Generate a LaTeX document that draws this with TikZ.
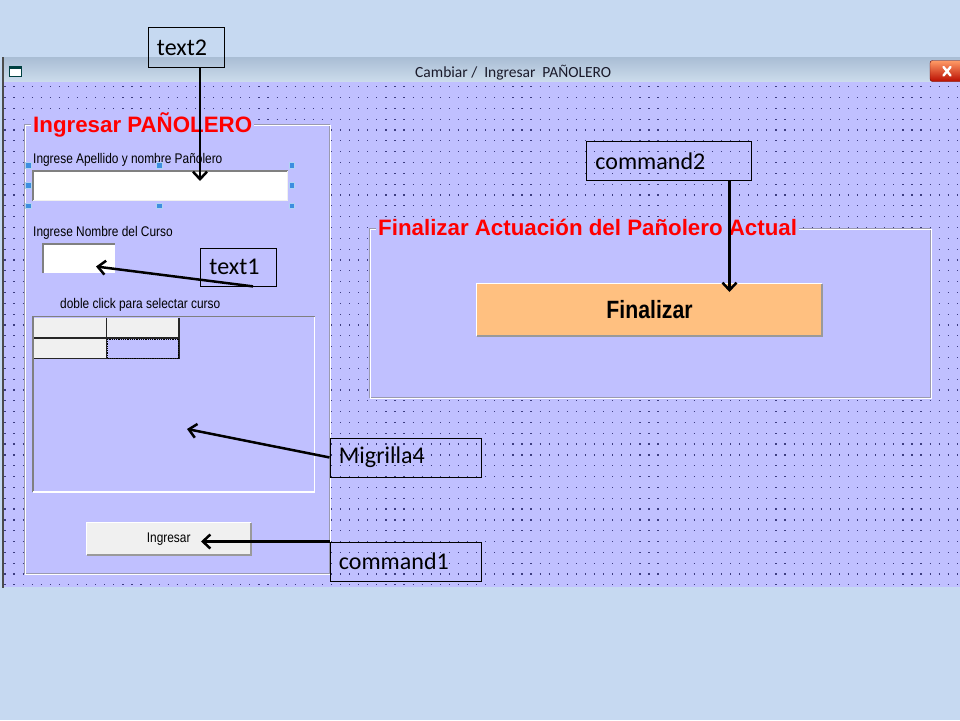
\documentclass[tikz,border=0pt]{standalone}
\usepackage{fontspec}
\usepackage{graphicx}
\setmainfont{Liberation Sans}
\newfontfamily\calfont{Carlito}
\newfontfamily\narrowfont[FakeStretch=0.85]{Liberation Sans}
\usetikzlibrary{arrows.meta,calc}
\definecolor{bgblue}{HTML}{C6D9F1}
\definecolor{lav}{HTML}{C0C0FF}
\definecolor{dotc}{HTML}{3C3C80}
\definecolor{btngray}{HTML}{F0F0F0}
\definecolor{orangebtn}{HTML}{FFC080}
\definecolor{etchgray}{HTML}{9A9AB0}
\definecolor{titred}{HTML}{FF0000}
\definecolor{handleblue}{HTML}{3D8EE0}
\definecolor{sunkgray}{HTML}{808080}
\definecolor{wintext}{HTML}{1A1A2A}
\definecolor{bartop}{HTML}{A9BDD4}
\definecolor{barbot}{HTML}{CCDCEC}
\tikzset{
  dotrow/.style={dotc, line width=1.2pt, dash pattern=on 1.2pt off 7.87pt},
  frametitle/.style={fill=lav, text=titred, inner xsep=2pt, inner ysep=1pt,
    font=\bfseries\fontsize{22.3}{26}\selectfont},
  lbl/.style={inner sep=0pt, text=black, font=\narrowfont\fontsize{14}{16}\selectfont},
  btn/.style={fill=btngray, inner sep=0pt, text=black},
  callout/.style={draw=black, line width=0.9pt, inner xsep=9pt, inner ysep=0pt,
    align=left, font=\calfont\fontsize{24}{28}\selectfont, anchor=north west},
  arr/.style={black, line width=2.5pt, -{Straight Barb[length=7.5pt,width=14pt]}},
  handle/.style={fill=handleblue, draw=handleblue!40!white, line width=0.6pt},
}
\begin{document}
\begin{tikzpicture}[x=1pt,y=-1pt]
\fill[bgblue] (0,0) rectangle (960,720);
\useasboundingbox (0,0) rectangle (960,720);
% window title bar
\shade[top color=bartop, bottom color=barbot] (2,57) rectangle (960,82);
\node[anchor=base west, inner sep=0pt, text=wintext, font=\calfont\fontsize{15.5}{18}\selectfont] (wtitle) at (415,77.7) {Cambiar /\ \ Ingresar\ \ PAÑOLERO};
% close button
\shade[top color=red!30!orange!60!white, bottom color=red!70!black!90!orange, rounded corners=2.5pt, draw=red!40!black] (930,60.5) rectangle (968,81.5);
\draw[white, line width=2.4pt, line cap=round] (943.5,67) -- (950.5,75.5) (950.5,67) -- (943.5,75.5);
% window icon
\fill[white, draw=teal!50!black, line width=1pt] (9,66) rectangle (21,76);
\fill[teal!50!black] (9,65.5) rectangle (21,68.5);
% form area
\fill[lav] (4,82) rectangle (960,587);
\fill[gray!60!black] (1.5,57) rectangle (3.5,588);
% dot grid
\foreach \k in {0,...,46}{
  \pgfmathsetmacro\yy{86.7+10.83*\k}
  \draw[dotrow] (4.4,\yy) -- (960,\yy);
}
% ---------- left frame
\fill[lav] (24,124) rectangle (330,574);
\draw[etchgray, line width=1pt] (24,124) rectangle (329,573);
\draw[white, line width=1pt] (25,125) rectangle (330,574);
\node[frametitle, anchor=base west] (ftl) at (31,132) {Ingresar PAÑOLERO};
\node[lbl, anchor=base west] (l1) at (33,163) {Ingrese Apellido y nombre Pañolero};
% text2 box
\fill[white] (32,170) rectangle (288,201);
\draw[sunkgray, line width=2pt] (33,201) -- (33,171) -- (288,171);
\draw[btngray, line width=1pt] (33,200.5) -- (287.5,200.5) -- (287.5,171);
\foreach \hx/\hy in {28.3/165,159.3/165,291.7/165,28.3/185.5,291.7/185.5,28.3/205.7,159.3/205.7,291.7/205.7}
  \draw[handle] (\hx,\hy) ++(-2.8,-2.8) rectangle ++(5.6,5.6);
\node[lbl, anchor=base west] (l2) at (33,236) {Ingrese Nombre del Curso};
% text1 box
\fill[white] (42,243) rectangle (115,273);
\draw[sunkgray, line width=2pt] (43,273) -- (43,244) -- (115,244);
\node[lbl, anchor=base west] (l3) at (60,308) {doble click para selectar curso};
% grid
\draw[sunkgray, line width=1.5pt] (33,492) -- (33,316.5) -- (314.5,316.5);
\draw[white, line width=1.5pt] (314.5,316.5) -- (314.5,492) -- (33,492);
\fill[btngray] (34,317.5) rectangle (179,358);
\fill[lav] (107,338.5) rectangle (179,358);
\draw[black!85, line width=1.4pt] (34,338) -- (179,338) (106.5,317.5) -- (106.5,358.5) (34,358.5) -- (179,358.5) (179,317.5) -- (179,358.5);
\draw[black, line width=0.8pt, densely dotted] (107.5,339) rectangle (178.5,358);
% Ingresar button
\node[btn, minimum width=164pt, minimum height=32pt, font=\narrowfont\fontsize{14}{16}\selectfont] (bIng) at (168.7,538.8) {Ingresar};
\draw[white, line width=1.2pt] (bIng.south west) |- (bIng.north east);
\draw[sunkgray!80, line width=1.6pt] (bIng.south west) -| (bIng.north east);
% ---------- right frame
\fill[lav] (369,228) rectangle (931,398);
\draw[etchgray, line width=1pt] (369,228) rectangle (930,397);
\draw[white, line width=1pt] (370,229) rectangle (931,398);
\node[frametitle, anchor=base west] (ftr) at (376,235.5) {Finalizar Actuación del Pañolero Actual};
\node[btn, fill=orangebtn, minimum width=345pt, minimum height=52pt, font=\narrowfont\bfseries\fontsize{25}{28}\selectfont] (bFin) at (649.5,310) {Finalizar};
\draw[white, line width=1.2pt] (bFin.south west) |- (bFin.north east);
\draw[sunkgray!80, line width=1.6pt] (bFin.south west) -| (bFin.north east);
% ---------- callouts
\node[callout, text width=58pt, minimum height=40pt] (t2) at (147.5,27) {text2};
\node[callout, text width=58pt, minimum height=38pt] (t1) at (200,247.5) {text1};
\node[callout, text width=147pt, minimum height=39pt] (c2) at (586,141) {command2};
\node[callout, text width=133pt, minimum height=39pt] (mg) at (329.5,437.5) {Migrilla4};
\node[callout, text width=133pt, minimum height=39pt] (c1) at (329.5,541.5) {command1};
% arrow targets
\coordinate (a2) at (200,181);
\coordinate (a1) at (96,266.5);
\coordinate (ac2) at (729.5,292);
\coordinate (amg) at (187,429);
\coordinate (ac1) at (201,541.5);
\draw[arr] (t2.south -| a2) -- (a2);
\draw[arr] ($(t1.south west)+(53,0)$) -- (a1);
\draw[arr] (c2.south -| ac2) -- (ac2);
\draw[arr] (mg.west) -- (amg);
\draw[arr] (c1.north west) -- (ac1);
\end{tikzpicture}
\end{document}
